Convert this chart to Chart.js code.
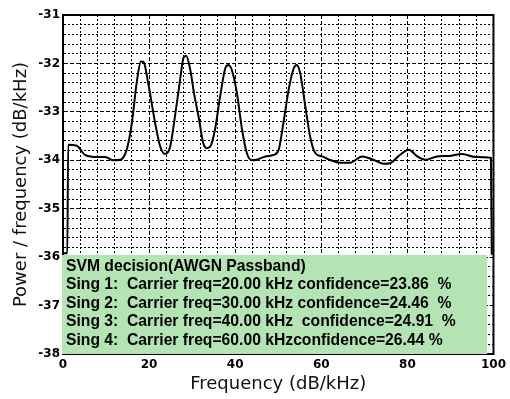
<!DOCTYPE html>
<html>
<head>
<meta charset="utf-8">
<script src="https://cdn.jsdelivr.net/npm/chart.js@4/dist/chart.umd.min.js"></script>
<style>
  html, body { margin: 0; padding: 0; background: #fff; }
  #wrap { width: 510px; height: 399px; position: relative; }
</style>
</head>
<body>
<div id="wrap"><canvas id="psd"></canvas></div>
<script>
// spectrum
const freqKHz = [0, 1.0, 1.2, 3.2, 5.1, 7.4, 9.8, 11.7, 13.3, 14.8, 16.0, 17.1, 18.1, 18.7, 19.8,
  21.4, 22.6, 23.7, 24.9, 26.0, 27.2, 28.0, 28.6, 29.5, 30.5, 31.5, 32.6, 33.4, 34.2, 35.3,
  36.5, 37.7, 38.4, 39.2, 40.4, 41.6, 42.7, 43.9, 45.0, 47.0, 48.9, 50.1, 51.2, 52.4, 53.6,
  54.3, 55.1, 56.3, 57.4, 58.6, 60.2, 61.7, 64.4, 66.7, 69.5, 71.8, 74.5, 76.0, 78.0, 80.3,
  82.3, 84.2, 86.9, 89.6, 92.7, 95.8, 99.4, 99.6];
const powerDb = [-35.92, -35.92, -33.68, -33.70, -33.89, -33.93, -33.93, -34.00, -33.99, -33.78, -33.23, -32.41, -31.96, -31.97, -32.41,
  -33.23, -33.72, -33.87, -33.72, -33.10, -32.34, -31.88, -31.84, -32.10, -32.65, -33.10, -33.65, -33.75, -33.72, -33.37,
  -32.68, -32.10, -32.03, -32.13, -32.61, -33.37, -33.85, -34.00, -33.99, -33.92, -33.89, -33.78, -33.23, -32.55, -32.10,
  -32.03, -32.20, -32.89, -33.51, -33.85, -33.92, -33.98, -34.05, -34.05, -33.92, -33.98, -34.07, -34.06, -33.91, -33.78,
  -33.92, -33.99, -33.92, -33.91, -33.87, -33.93, -33.95, -35.95];

const xTickLabels = [0, 20, 40, 60, 80, 100];
const yTickLabels = [-38, -37, -36, -35, -34, -33, -32, -31];

const boxLines = [
  'SVM decision(AWGN Passband)',
  'Sing 1:  Carrier freq=20.00 kHz confidence=23.86  %',
  'Sing 2:  Carrier freq=30.00 kHz confidence=24.46  %',
  'Sing 3:  Carrier freq=40.00 kHz  confidence=24.91  %',
  'Sing 4:  Carrier freq=60.00 kHzconfidence=26.44 %'
];

const near = (v, list) => list.some(t => Math.abs(v - t) < 1e-6);
const gridDash = list => c => (c.tick && near(c.tick.value, list)) ? [4, 2] : [2, 2];

// frame (top/right) + green decision box on top
const decisionBox = {
  id: 'decisionBox',
  afterDraw(chart) {
    const { ctx, chartArea: a, scales: { x, y } } = chart;
    ctx.save();
    ctx.strokeStyle = '#000';
    ctx.lineWidth = 2;
    ctx.strokeRect(a.left, a.top, a.right - a.left, a.bottom - a.top);

    const left = a.left - 1;
    const top = Math.round(y.getPixelForValue(-35.95));
    const right = Math.round(x.getPixelForValue(98.6));
    const bottom = a.bottom;
    ctx.fillStyle = '#b4e4b4';
    ctx.fillRect(left, top, right - left, bottom - top);

    ctx.fillStyle = '#000';
    ctx.font = 'bold 15.7px "Liberation Sans", Arial, sans-serif';
    ctx.textAlign = 'left';
    ctx.textBaseline = 'alphabetic';
    boxLines.forEach((s, i) => ctx.fillText(s, left + 4, top + 16 + i * 18.4));
    ctx.restore();
  }
};

new Chart(document.getElementById('psd'), {
  type: 'line',
  data: {
    datasets: [{
      data: freqKHz.map((f, i) => ({ x: f, y: powerDb[i] })),
      borderColor: '#000',
      borderWidth: 2,
      pointRadius: 0,
      cubicInterpolationMode: 'monotone',
      fill: false
    }]
  },
  options: {
    responsive: true,
    maintainAspectRatio: false,
    animation: false,
    layout: { padding: { top: 15, right: 16, left: 0, bottom: 0 } },
    plugins: { legend: { display: false }, tooltip: { enabled: false } },
    scales: {
      x: {
        type: 'linear',
        min: 0, max: 100,
        afterFit: s => { s.height = 45; },
        border: { display: true, color: '#000', width: 2, dash: gridDash(xTickLabels) },
        grid: { color: '#000', lineWidth: 1, drawTicks: false },
        ticks: {
          stepSize: 4,
          autoSkip: false,
          maxRotation: 0,
          padding: 4,
          color: '#000',
          font: { family: '"DejaVu Sans", sans-serif', size: 12, weight: 'bold' },
          callback: v => near(v, xTickLabels) ? String(Math.round(v)) : ''
        },
        title: {
          display: true,
          text: 'Frequency (dB/kHz)',
          color: '#111',
          font: { family: '"DejaVu Sans", sans-serif', size: 18 },
          padding: { top: 0, bottom: 4 }
        }
      },
      y: {
        type: 'linear',
        min: -38, max: -31,
        afterFit: s => { s.width = 63; },
        border: { display: true, color: '#000', width: 2, dash: gridDash(yTickLabels) },
        grid: { color: '#000', lineWidth: 1, drawTicks: false },
        ticks: {
          stepSize: 0.2,
          autoSkip: false,
          padding: 3,
          color: '#000',
          font: { family: '"DejaVu Sans", sans-serif', size: 12, weight: 'bold' },
          callback: v => near(v, yTickLabels) ? String(Math.round(v)) : ''
        },
        title: {
          display: true,
          text: 'Power / frequency (dB/kHz)',
          color: '#111',
          font: { family: '"DejaVu Sans", sans-serif', size: 18 },
          padding: { top: 11, bottom: 0 }
        }
      }
    }
  },
  plugins: [decisionBox]
});
</script>
</body>
</html>
